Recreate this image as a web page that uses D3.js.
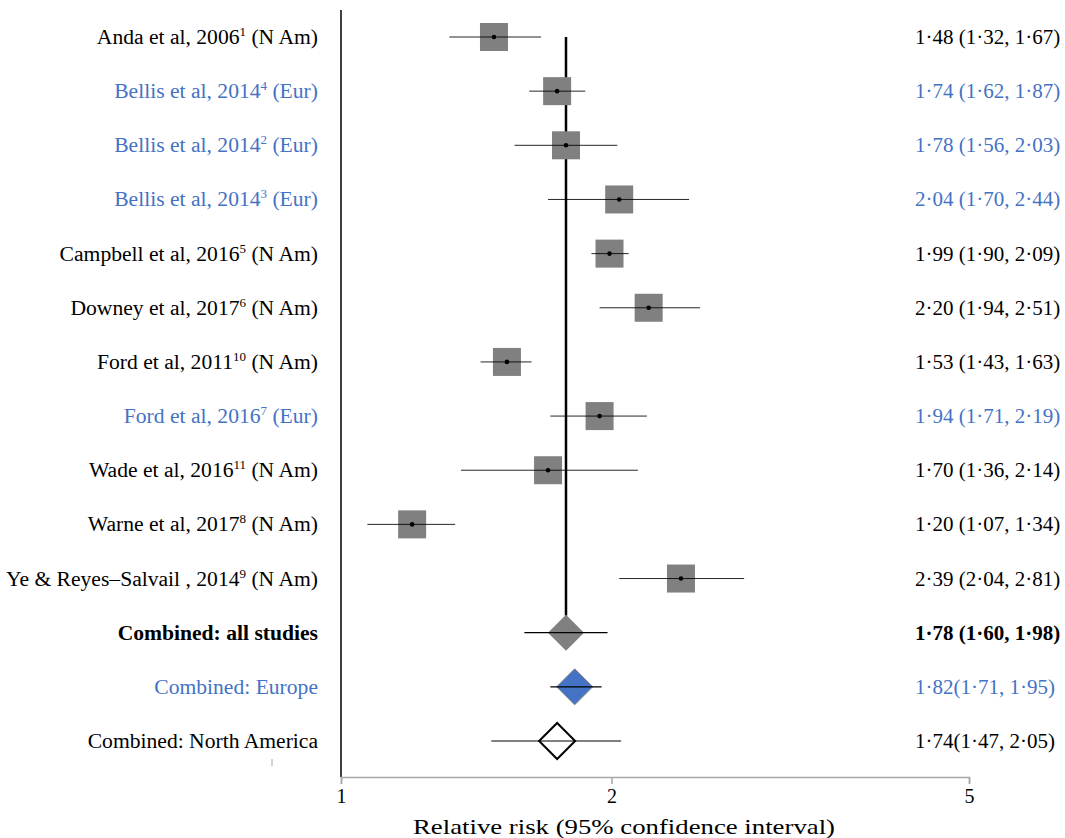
<!DOCTYPE html>
<html>
<head>
<meta charset="utf-8">
<script src="https://cdn.jsdelivr.net/npm/d3@7/dist/d3.min.js"></script>
<style>
  html, body { margin: 0; padding: 0; background: #fff; }
  svg { display: block; font-family: "Liberation Serif", "Times New Roman", serif; }
</style>
</head>
<body>
<svg id="chart" width="1065" height="838"></svg>
<script>
// Study names, reference numbers and regions
const studyNames = [
  "Anda et al, 2006", "Bellis et al, 2014", "Bellis et al, 2014", "Bellis et al, 2014",
  "Campbell et al, 2016", "Downey et al, 2017", "Ford et al, 2011", "Ford et al, 2016",
  "Wade et al, 2016", "Warne et al, 2017", "Ye & Reyes\u2013Salvail , 2014"
];
const studyRefs = ["1", "4", "2", "3", "5", "6", "10", "7", "11", "8", "9"];
const studyRegions = ["N Am", "Eur", "Eur", "Eur", "N Am", "N Am", "N Am", "Eur", "N Am", "N Am", "N Am"];

// Relative risks with 95% confidence intervals
const studyRR = [1.48, 1.74, 1.78, 2.04, 1.99, 2.20, 1.53, 1.94, 1.70, 1.20, 2.39];
const studyLow = [1.32, 1.62, 1.56, 1.70, 1.90, 1.94, 1.43, 1.71, 1.36, 1.07, 2.04];
const studyHigh = [1.67, 1.87, 2.03, 2.44, 2.09, 2.51, 1.63, 2.19, 2.14, 1.34, 2.81];

// Pooled estimates
const pooledNames = ["Combined: all studies", "Combined: Europe", "Combined: North America"];
const pooledRR = [1.78, 1.82, 1.74];
const pooledLow = [1.60, 1.71, 1.47];
const pooledHigh = [1.98, 1.95, 2.05];
const pooledText = ["1\u00b778 (1\u00b760, 1\u00b798)", "1\u00b782(1\u00b771, 1\u00b795)", "1\u00b774(1\u00b747, 2\u00b705)"];

// Axis ticks
const xTicks = [1, 2, 5];
const axisTitle = "Relative risk (95% confidence interval)";

const blue = "#4472C4";
const grey = "#808080";
const FS = 21;      // right-hand estimate column
const FS_L = 21.6;  // left-hand label column

const fmt = v => v.toFixed(2).replace(".", "\u00b7");

const svg = d3.select("#chart");

const nRows = studyNames.length + pooledNames.length;
const x = d3.scaleLog().domain([1, 5]).range([341, 969]);
const y = d3.scaleLinear().domain([0, nRows - 1]).range([37, 741]);

// Left vertical frame line
svg.append("line")
  .attr("x1", 341).attr("x2", 341).attr("y1", 10).attr("y2", 777)
  .attr("stroke", "#000").attr("stroke-width", 1.5);

// Bottom axis
const axis = d3.axisBottom(x).tickValues(xTicks).tickFormat(d3.format("d")).tickSize(7).tickPadding(5);
const gAxis = svg.append("g").attr("transform", "translate(0,777)").call(axis);
gAxis.select(".domain").attr("stroke", "#a6a6a6").attr("stroke-width", 1.5);
gAxis.selectAll(".tick line").attr("stroke", "#a6a6a6").attr("stroke-width", 1.5);
gAxis.selectAll(".tick text")
  .attr("fill", "#000").attr("font-size", 20)
  .attr("font-family", "Liberation Serif, Times New Roman, serif");

svg.append("text")
  .attr("x", 413).attr("y", 834)
  .attr("font-size", FS).attr("fill", "#000")
  .attr("textLength", 422).attr("lengthAdjust", "spacingAndGlyphs")
  .text(axisTitle);

// Small stray tick under label column
svg.append("line")
  .attr("x1", 272).attr("x2", 272).attr("y1", 759).attr("y2", 766)
  .attr("stroke", "#a6a6a6").attr("stroke-width", 1);

// Pooled overall reference line
svg.append("line")
  .attr("x1", x(pooledRR[0])).attr("x2", x(pooledRR[0]))
  .attr("y1", y(0)).attr("y2", y(studyNames.length) - 17)
  .attr("stroke", "#000").attr("stroke-width", 2.5);

const studies = studyNames.map((n, i) => ({
  name: n, ref: studyRefs[i], region: studyRegions[i],
  rr: studyRR[i], lo: studyLow[i], hi: studyHigh[i], row: i
}));

const gStudy = svg.append("g").selectAll("g").data(studies).join("g");

gStudy.append("rect")
  .attr("x", d => x(d.rr) - 14).attr("y", d => y(d.row) - 14)
  .attr("width", 28).attr("height", 28).attr("fill", grey);

gStudy.append("line")
  .attr("x1", d => x(d.lo)).attr("x2", d => x(d.hi))
  .attr("y1", d => y(d.row)).attr("y2", d => y(d.row))
  .attr("stroke", "#000").attr("stroke-width", 1).attr("stroke-opacity", 0.85);

gStudy.append("circle")
  .attr("cx", d => x(d.rr)).attr("cy", d => y(d.row)).attr("r", 2.3).attr("fill", "#000");

// Study labels with superscript reference numbers
const lbl = gStudy.append("text")
  .attr("x", 318).attr("y", d => y(d.row) + 7)
  .attr("text-anchor", "end").attr("font-size", FS_L)
  .attr("fill", d => d.region === "Eur" ? blue : "#000");
lbl.append("tspan").text(d => d.name);
lbl.append("tspan").attr("font-size", 13).attr("dy", -8).text(d => d.ref);
lbl.append("tspan").attr("dy", 8).text(d => " (" + d.region + ")");

// Estimate text on the right
gStudy.append("text")
  .attr("x", 915).attr("y", d => y(d.row) + 7)
  .attr("font-size", FS)
  .attr("fill", d => d.region === "Eur" ? blue : "#000")
  .text(d => fmt(d.rr) + " (" + fmt(d.lo) + ", " + fmt(d.hi) + ")");

// Pooled rows
const pooled = pooledNames.map((n, i) => ({
  name: n, rr: pooledRR[i], lo: pooledLow[i], hi: pooledHigh[i],
  txt: pooledText[i], row: studyNames.length + i, k: i
}));
const fills = [grey, blue, "#fff"];
const strokes = ["none", grey, "#000"];
const textCol = ["#000", blue, "#000"];

const gPool = svg.append("g").selectAll("g").data(pooled).join("g");

gPool.append("path")
  .attr("d", d => {
    const cx = x(d.rr), cy = y(d.row), h = 18;
    return `M${cx - h},${cy}L${cx},${cy - h}L${cx + h},${cy}L${cx},${cy + h}Z`;
  })
  .attr("fill", d => fills[d.k]).attr("stroke", d => strokes[d.k])
  .attr("stroke-width", d => d.k === 2 ? 2 : 1);

gPool.append("line")
  .attr("x1", d => x(d.lo)).attr("x2", d => x(d.hi))
  .attr("y1", d => y(d.row)).attr("y2", d => y(d.row))
  .attr("stroke", "#000").attr("stroke-width", 1.2);

gPool.append("text")
  .attr("x", 318).attr("y", d => y(d.row) + 7)
  .attr("text-anchor", "end").attr("font-size", FS_L)
  .attr("font-weight", d => d.k === 0 ? "bold" : "normal")
  .attr("fill", d => textCol[d.k])
  .text(d => d.name);

gPool.append("text")
  .attr("x", 915).attr("y", d => y(d.row) + 7)
  .attr("font-size", FS)
  .attr("font-weight", d => d.k === 0 ? "bold" : "normal")
  .attr("fill", d => textCol[d.k])
  .text(d => d.txt);
</script>
</body>
</html>
